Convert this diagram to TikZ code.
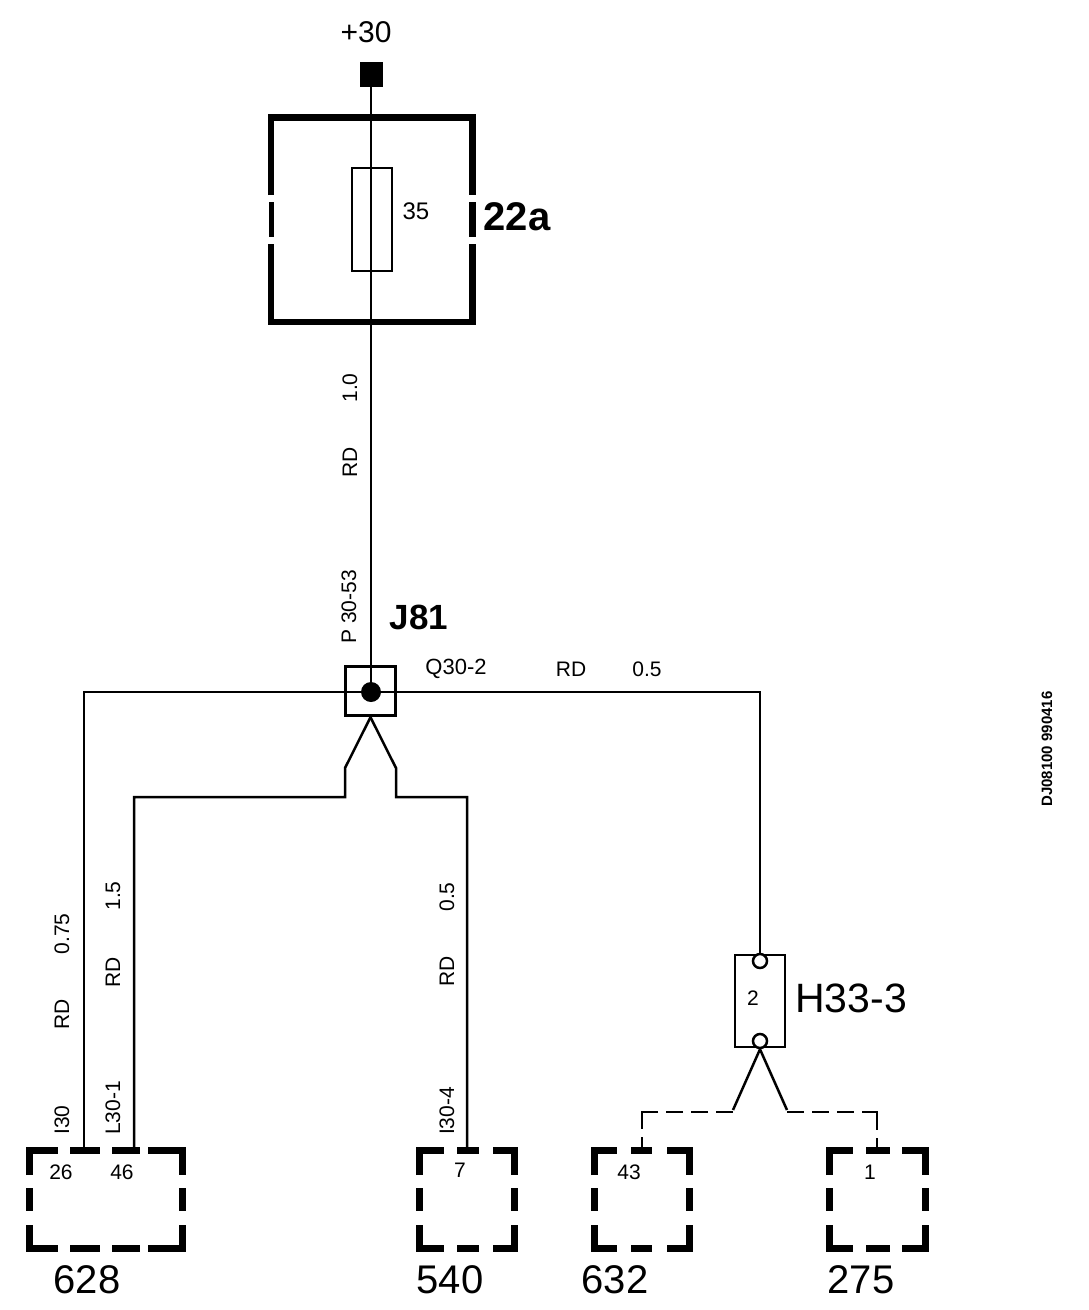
\documentclass[tikz,border=0pt]{standalone}
\usepackage{fontspec}
\setmainfont{Liberation Sans}
\newcommand{\pinbox}[5]{
\draw[boxline] (#1,1175) -- (#1,1150.5) -- (#2,1150.5);
\draw[boxline] (#3,1150.5) -- (#4,1150.5) -- (#4,1175);
\draw[boxline] (#1,1225) -- (#1,1248.5) -- (#2,1248.5);
\draw[boxline] (#3,1248.5) -- (#4,1248.5) -- (#4,1225);
\draw[boxline] (#1,1188) -- (#1,1211);
\draw[boxline] (#4,1188) -- (#4,1211);
\foreach \xa/\xb in {#5} {
\draw[boxline] (\xa,1150.5) -- (\xb,1150.5);
\draw[boxline] (\xa,1248.5) -- (\xb,1248.5);
}
}
\tikzset{
wire/.style={line width=2.5pt},
stub/.style={line width=2.5pt,dash pattern=on 17pt off 8pt on 17pt off 8pt on 17pt off 8pt on 33pt off 8pt on 20pt},
boxline/.style={line width=7pt},
fusebox/.style={line width=6.5pt},
wirelabel/.style={font=\fontsize{21}{21}\selectfont,inner sep=0pt},
vertlabel/.style={wirelabel,rotate=90},
pinlabel/.style={font=\fontsize{21}{21}\selectfont,inner sep=0pt},
bigname/.style={font=\fontsize{40}{40}\selectfont,inner sep=0pt},
}
\begin{document}
\begin{tikzpicture}[x=1pt,y=-1pt]
\useasboundingbox[fill=white] (0,0) rectangle (1088,1310);

\node[wirelabel,font=\fontsize{30}{30}\selectfont] (plus30) at (366,32) {+30};
\node[fill=black,minimum width=23pt,minimum height=25pt,inner sep=0pt] (feed) at (371,74.5) {};
\node[draw,line width=2.5pt,minimum width=40pt,minimum height=103pt,inner sep=0pt] (fuse) at (372,219.5) {};
\node[font=\fontsize{24}{24}\selectfont,inner sep=0pt] (fuseval) at (416,211) {35};
\node[bigname,font=\fontsize{40}{40}\bfseries] (fusename) at (517,217) {22a};
\draw[fusebox] (271,195) -- (271,117.5) -- (472.5,117.5) -- (472.5,195);
\draw[fusebox] (271,244) -- (271,322) -- (472.5,322) -- (472.5,244);
\draw[line width=5pt] (271,202) -- (271,237);
\draw[fusebox] (472.5,202) -- (472.5,237);

\node[draw,line width=3.5pt,minimum width=50pt,minimum height=49pt,inner sep=0pt] (j81) at (370.5,691) {};
\node[fill=black,circle,minimum size=20pt,inner sep=0pt] (joint) at (371,692) {};
\node[bigname,font=\fontsize{35}{35}\bfseries] (j81name) at (419,617) {J81};
\node[draw,line width=2.5pt,minimum width=50pt,minimum height=92pt,inner sep=0pt] (h33) at (760,1001) {};
\node[draw,fill=white,line width=2.5pt,circle,minimum size=14pt,inner sep=0pt] (h33in) at (760,961) {};
\node[draw,fill=white,line width=2.5pt,circle,minimum size=14pt,inner sep=0pt] (h33out) at (760,1041) {};
\node[pinlabel] (h33pin) at (753,998) {2};
\node[bigname,font=\fontsize{41}{41}\selectfont] (h33name) at (851,998) {H33-3};

\coordinate (p26) at (84,1147);
\coordinate (p46) at (134,1147);
\coordinate (p7) at (467,1147);
\coordinate (p43) at (642,1147);
\coordinate (p1) at (877,1147);

\draw[wire] (feed.south) -- (joint.center);
\draw[wire] (joint.center) -| (p26);
\draw[wire] (joint.center) -| (h33in.north);
\draw[wire] (j81.south) -- (345,768) -- (345,797) -| (p46);
\draw[wire] (j81.south) -- (396,768) -- (396,797) -| (p7);
\draw[wire] (h33out.south) -- (733,1110);
\draw[wire] (h33out.south) -- (787,1110);
\draw[stub] (733,1112) -| (p43);
\draw[stub] (787,1112) -| (p1);

\pinbox{29.5}{58}{148}{182.5}{70/100,112/140}
\pinbox{419.5}{444}{493}{514.5}{457/479}
\pinbox{594}{617}{667}{689.5}{631/652}
\pinbox{829}{853}{902}{925}{866/890}

\node[vertlabel] (wa) at (350,388) {1.0};
\node[vertlabel] (wb) at (350,462) {RD};
\node[vertlabel] (wc) at (349,607) {P 30-53};
\node[wirelabel,font=\fontsize{22}{22}\selectfont] (wd) at (456,669) {Q30-2};
\node[wirelabel] (we) at (571,669) {RD};
\node[wirelabel] (wf) at (647,669) {0.5};
\node[vertlabel] (wg) at (62,934) {0.75};
\node[vertlabel] (wh) at (62,1014) {RD};
\node[vertlabel] (wi) at (62,1120) {I30};
\node[vertlabel] (wj) at (113,896) {1.5};
\node[vertlabel] (wk) at (113,972) {RD};
\node[vertlabel] (wl) at (113,1108) {L30-1};
\node[vertlabel] (wm) at (447,897) {0.5};
\node[vertlabel] (wn) at (447,971) {RD};
\node[vertlabel] (wo) at (447,1111) {I30-4};

\node[pinlabel] (pa) at (61,1172) {26};
\node[pinlabel] (pb) at (122,1172) {46};
\node[pinlabel] (pc) at (460,1170) {7};
\node[pinlabel] (pd) at (629,1172) {43};
\node[pinlabel] (pe) at (870,1172) {1};

\node[bigname] (b628) at (87,1280) {628};
\node[bigname] (b540) at (450,1280) {540};
\node[bigname] (b632) at (615,1280) {632};
\node[bigname] (b275) at (861,1280) {275};

\node[rotate=90,font=\fontsize{15}{15}\bfseries,inner sep=0pt] (docref) at (1047,749) {DJ08100 990416};
\end{tikzpicture}
\end{document}
